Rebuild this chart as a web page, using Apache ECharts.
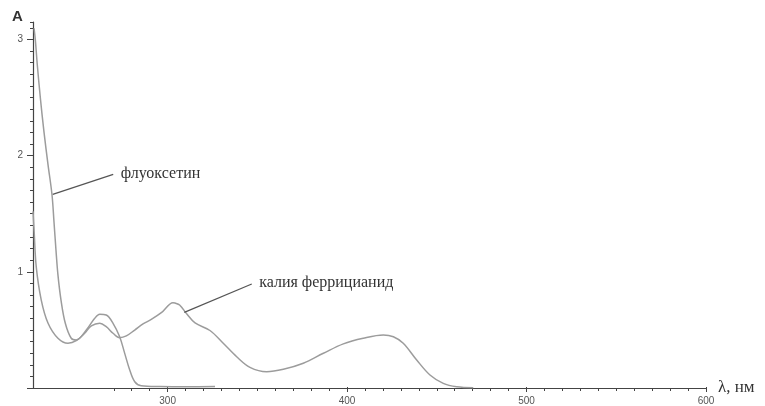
<!DOCTYPE html>
<html>
<head>
<meta charset="utf-8">
<script src="https://cdn.jsdelivr.net/npm/echarts@6/dist/echarts.min.js"></script>
<style>html,body{margin:0;padding:0;background:#fff}#c{width:765px;height:406px}</style>
</head>
<body>
<div id="c"></div>
<script>
// Wavelength (nm) and absorbance
const fluoxLambda = [225.6,226.3,227.4,229.1,231.1,233.4,235.6,236.7,237.8,238.9,240.6,243.0,246.3,249.1,254.7,259.4,262.2,265.8,269.6,273.3,276.1,278.9,281.7,285.3,295.8,311.4,326.4];
const fluoxAbs    = [3.096,2.996,2.780,2.496,2.206,1.919,1.661,1.429,1.188,0.973,0.757,0.557,0.428,0.413,0.499,0.600,0.634,0.628,0.557,0.441,0.298,0.155,0.054,0.020,0.013,0.011,0.013];

const ferriLambda = [225.0,225.6,226.8,229.6,233.4,238.9,244.5,249.1,253.8,257.5,262.2,265.8,269.6,273.3,277.0,281.7,286.3,290.9,296.5,303.0,304.1,306.7,310.4,315.3,323.6,331.0,338.5,345.9,355.2,364.5,375.6,386.8,397.9,409.0,420.2,425.8,431.3,438.8,446.2,453.6,461.1,470.3];
const ferriAbs    = [1.52,1.36,1.044,0.757,0.557,0.428,0.385,0.407,0.471,0.534,0.557,0.528,0.471,0.433,0.448,0.499,0.551,0.590,0.648,0.734,0.731,0.714,0.643,0.560,0.495,0.385,0.269,0.178,0.140,0.161,0.213,0.299,0.380,0.428,0.456,0.441,0.385,0.241,0.112,0.040,0.011,0.003];

// Leader lines: [lambda, A] start and end, with label text
const fluoxLabel = 'флуоксетин';
const fluoxLeader = [[236.0, 1.667], [269.7, 1.839]];
const ferriLabel = 'калия феррицианид';
const ferriLeader = [[309.3, 0.651], [346.9, 0.895]];

// Axis settings
const xMin = 225, xMax = 600;
const yMax = 3.15;
const xMinorStart = 270, xMinorStep = 10;
const xMajorStart = 300, xMajorStep = 100;
const yMinorStep = 0.1, yMajorMax = 3, yMajorStep = 1;
const axisName = 'λ, нм';
const yName = 'A';

const zip = (a, b) => a.map((v, i) => [v, b[i]]);

// layout: px per nm and per unit
const L = 33, R = 59, T = 22, B = 18;
const W = 765 - L - R, H = 406 - T - B;
const pxNm = W / (xMax - xMin), pxA = H / yMax;

const chart = echarts.init(document.getElementById('c'), null, {renderer: 'canvas'});
const axisColor = '#444';
const serif = '"Liberation Serif", "DejaVu Serif", serif';
const sans = '"Liberation Sans", Arial, sans-serif';

function leader(pts, text) {
  return {
    silent: true, symbol: ['none', 'none'], animation: false,
    lineStyle: {color: '#555', width: 1.2, type: 'solid'},
    label: {show: true, position: 'end', formatter: text, fontFamily: serif, fontSize: 16, color: '#333', distance: 8, offset: [0, 2]},
    emphasis: {disabled: true},
    data: [[{coord: pts[0]}, {coord: pts[1]}]]
  };
}

chart.setOption({
  animation: false,
  grid: [
    {left: L, right: R, top: T, bottom: B},
    {left: L + (xMinorStart - xMin) * pxNm, right: R, top: T, bottom: B},
    {left: L + (xMajorStart - xMin) * pxNm, right: R, top: T, bottom: B},
    {left: L, right: R, top: T + (yMax - yMajorMax) * pxA, bottom: B}
  ],
  xAxis: [
    {gridIndex: 0, type: 'value', min: xMin, max: xMax, axisLine: {show: true, lineStyle: {color: axisColor, width: 1.2}},
     axisTick: {show: false}, axisLabel: {show: false}, splitLine: {show: false},
     name: axisName, nameLocation: 'end', nameGap: 12, nameTextStyle: {fontFamily: serif, fontSize: 17, color: '#333', verticalAlign: 'middle', padding: [4, 0, 0, 0]}},
    {gridIndex: 1, type: 'value', min: xMinorStart, max: xMax, interval: xMinorStep, axisLine: {show: false},
     axisTick: {show: true, length: 3, lineStyle: {color: axisColor}}, axisLabel: {show: false}, splitLine: {show: false}},
    {gridIndex: 2, type: 'value', min: xMajorStart, max: xMax, interval: xMajorStep, axisLine: {show: false},
     axisTick: {show: true, length: 5, lineStyle: {color: axisColor}},
     axisLabel: {show: true, margin: 9, fontSize: 10, color: '#555', fontFamily: sans}, splitLine: {show: false}},
    {gridIndex: 3, type: 'value', min: xMin, max: xMax, show: false}
  ],
  yAxis: [
    {gridIndex: 0, type: 'value', min: 0, max: yMax, interval: yMinorStep, axisLine: {show: true, lineStyle: {color: axisColor, width: 1.2}},
     axisTick: {show: true, length: 3, lineStyle: {color: axisColor}}, axisLabel: {show: false}, splitLine: {show: false}},
    {gridIndex: 1, type: 'value', min: 0, max: 1, show: false},
    {gridIndex: 2, type: 'value', min: 0, max: 1, show: false},
    {gridIndex: 3, type: 'value', min: 0, max: yMajorMax, interval: yMajorStep, axisLine: {show: false},
     axisTick: {show: true, length: 6, lineStyle: {color: axisColor}},
     axisLabel: {show: true, margin: 10, fontSize: 10, color: '#555', fontFamily: sans, formatter: v => v === 0 ? '' : String(v)},
     splitLine: {show: false}}
  ],
  series: [
    {type: 'line', xAxisIndex: 0, yAxisIndex: 0, data: zip(fluoxLambda, fluoxAbs), showSymbol: false, smooth: 0.35,
     lineStyle: {color: '#9c9c9c', width: 1.5}, itemStyle: {color: '#9c9c9c'}, markLine: leader(fluoxLeader, fluoxLabel)},
    {type: 'line', xAxisIndex: 0, yAxisIndex: 0, data: zip(ferriLambda, ferriAbs), showSymbol: false, smooth: 0.35,
     lineStyle: {color: '#9c9c9c', width: 1.5}, itemStyle: {color: '#9c9c9c'}, markLine: leader(ferriLeader, ferriLabel)}
  ],
  graphic: [
    {type: 'text', left: 12, top: 9, style: {text: yName, fontFamily: sans, fontSize: 15, fontWeight: 'bold', fill: '#333'}}
  ]
});
</script>
</body>
</html>
